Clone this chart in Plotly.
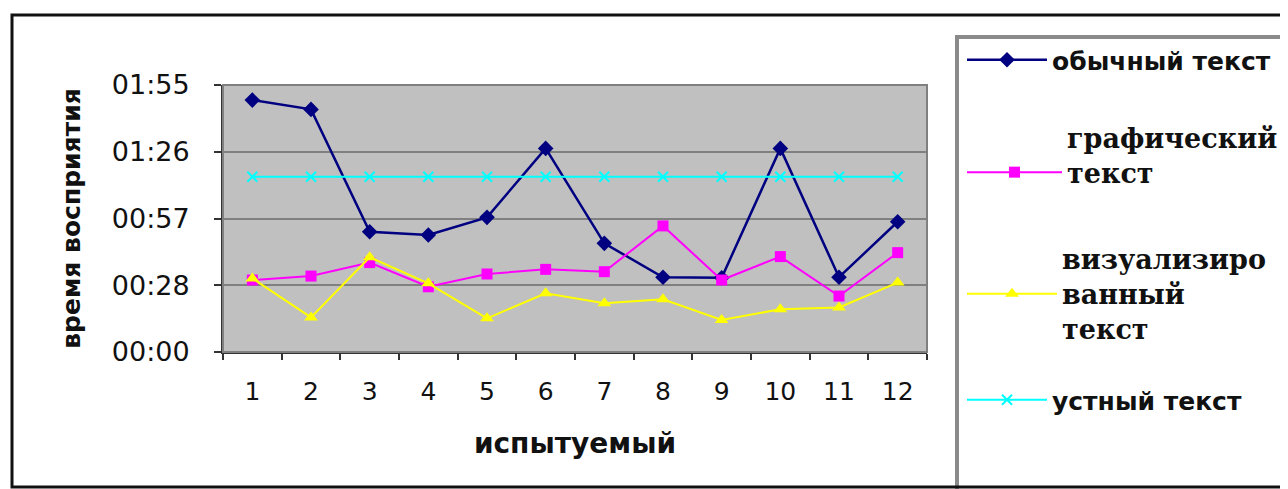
import plotly.graph_objects as go

subjects = [str(i) for i in range(1, 13)]

# values in seconds
ordinary_text = [108.5, 104.5, 51.8, 50.4, 58.0, 87.7, 46.8, 32.2, 32.0, 87.7, 32.2, 56.1]
graphic_text = [31.0, 32.7, 38.5, 28.1, 33.6, 35.6, 34.6, 54.3, 31.0, 41.1, 24.1, 42.8]
visual_text = [31.7, 14.9, 40.8, 29.6, 14.5, 25.3, 21.0, 22.7, 13.8, 18.4, 19.2, 29.9]
oral_text = [75.5] * 12

y_tick_vals = [0, 28.75, 57.5, 86.25, 115]
y_tick_text = ["00:00", "00:28", "00:57", "01:26", "01:55"]

names = [
    "обычный текст",
    "графический<br>текст",
    "визуализиро<br>ванный<br>текст",
    "устный текст",
]

# page body has an 8px margin; screen coordinates of the plot area
OFF = 8
L, R, T, B = 223, 927, 85, 352
W, H = 1288, 489
pw, ph = R - L, B - T

def px(x):
    return (x - L) / pw

def py(y):
    return (B - y) / ph

def cx(x):
    return (x - OFF) / W

def cy(y):
    return 1 - (y - OFF) / H

fig = go.Figure()
fig.add_trace(go.Scatter(x=subjects, y=ordinary_text, name=names[0], mode="lines+markers",
                         line=dict(color="#000080", width=2.5),
                         marker=dict(symbol="diamond", size=12, color="#000080"),
                         legend="legend"))
fig.add_trace(go.Scatter(x=subjects, y=graphic_text, name=names[1], mode="lines+markers",
                         line=dict(color="#FF00FF", width=2),
                         marker=dict(symbol="square", size=11, color="#FF00FF"),
                         legend="legend2"))
fig.add_trace(go.Scatter(x=subjects, y=visual_text, name=names[2], mode="lines+markers",
                         line=dict(color="#FFFF00", width=2),
                         marker=dict(symbol="triangle-up", size=12, color="#FFFF00"),
                         legend="legend3"))
fig.add_trace(go.Scatter(x=subjects, y=oral_text, name=names[3], mode="lines+markers",
                         line=dict(color="#00FFFF", width=2),
                         marker=dict(symbol="x-thin", size=10, color="#00FFFF",
                                     line=dict(color="#00FFFF", width=2)),
                         legend="legend4"))

sans_leg = dict(family="DejaVu Sans", size=25, color="#111111", weight="bold")
serif_leg = dict(family="DejaVu Serif", size=27, color="#111111", weight="bold")
leg_common = dict(bgcolor="rgba(0,0,0,0)", borderwidth=0, xanchor="left", yanchor="middle",
                  xref="container", yref="container")
LX = cx(962)
fig.update_layout(
    legend=dict(x=LX, y=cy(60), font=sans_leg, itemwidth=80, **leg_common),
    legend2=dict(x=LX, y=cy(155), valign="bottom", font=serif_leg, itemwidth=95, **leg_common),
    legend3=dict(x=LX, y=cy(294), valign="middle", font=serif_leg, itemwidth=90, **leg_common),
    legend4=dict(x=LX, y=cy(400), font=sans_leg, itemwidth=80, **leg_common),
)

fig.update_layout(
    width=W, height=H,
    margin=dict(l=L - OFF, r=W - (R - OFF), t=T - OFF, b=H - (B - OFF)),
    paper_bgcolor="white",
    plot_bgcolor="#C0C0C0",
    showlegend=True,
    font=dict(family="DejaVu Sans", color="#111111"),
    xaxis=dict(
        type="category", range=[-0.5, len(subjects) - 0.5],
        tickson="boundaries", ticks="outside", ticklen=6, tickwidth=2,
        tickcolor="#333333", showline=True, linecolor="#333333", linewidth=2,
        showgrid=False, tickfont=dict(size=25, family="DejaVu Sans"),
        ticklabelstandoff=16, automargin=False,
        title=dict(text="<b>испытуемый</b>", font=dict(size=28, family="DejaVu Sans"), standoff=28),
    ),
    yaxis=dict(
        range=[0, 115], tickvals=y_tick_vals, ticktext=y_tick_text,
        ticks="outside", ticklen=7, tickwidth=2, tickcolor="#333333",
        showline=True, linecolor="#333333", linewidth=2,
        showgrid=True, gridcolor="#808080", gridwidth=2, zeroline=False,
        tickfont=dict(size=27, family="DejaVu Sans"), ticklabelstandoff=19, automargin=False,
        title=dict(text="<b>время восприятия</b>", font=dict(size=25, family="DejaVu Sans"), standoff=24),
    ),
    shapes=[
        # plot area border (top/right)
        dict(type="rect", xref="paper", yref="paper", x0=0, x1=1, y0=0, y1=1,
             line=dict(color="#808080", width=2), layer="above"),
        # legend box
        dict(type="rect", xref="paper", yref="paper", x0=px(957), x1=px(1310),
             y0=py(510), y1=py(37), line=dict(color="#8A8A8A", width=4)),
        # outer chart frame
        dict(type="rect", xref="paper", yref="paper", x0=px(12), x1=px(1310),
             y0=py(487), y1=py(15), line=dict(color="#111111", width=3)),
    ],
)

fig.write_html("out.html")
